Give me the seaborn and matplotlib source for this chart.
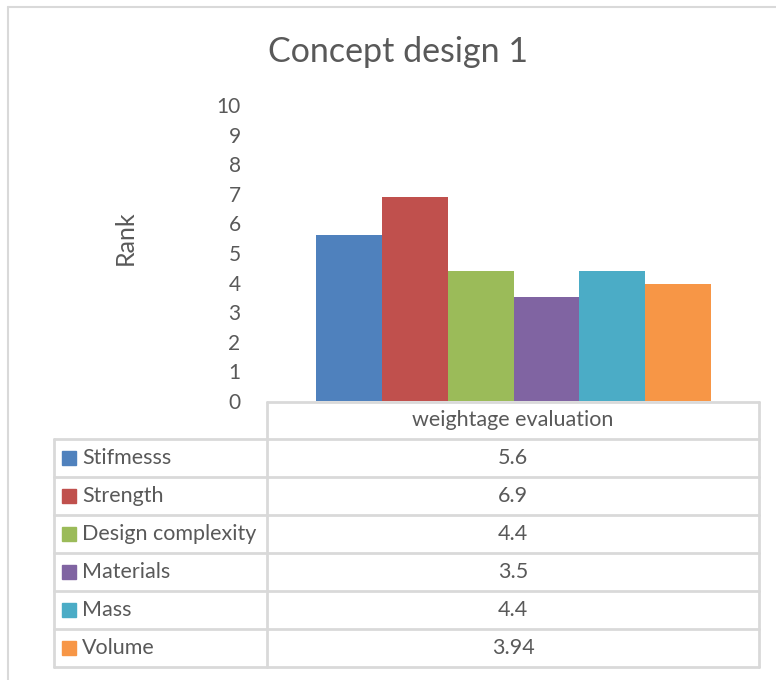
import matplotlib
matplotlib.use("Agg")
import matplotlib.pyplot as plt
import seaborn as sns
import pandas as pd
from matplotlib.lines import Line2D
from matplotlib.patches import Rectangle

# ---- data ----
title = "Concept design 1"
group_label = "weightage evaluation"
criteria = ["Stifmesss", "Strength", "Design complexity", "Materials", "Mass", "Volume"]
values = [5.6, 6.9, 4.4, 3.5, 4.4, 3.94]
value_labels = ["5.6", "6.9", "4.4", "3.5", "4.4", "3.94"]
colors = ["#4F81BD", "#C0504D", "#9BBB59", "#8064A2", "#4BACC6", "#F79646"]
yticks = list(range(0, 11))

W, H = 776, 680
sns.set_theme(style="white")
plt.rcParams["font.family"] = ["Lato", "DejaVu Sans"]
TXT = "#595959"
GRID = "#D9D9D9"
FS = 15.5

fig = plt.figure(figsize=(W / 100, H / 100), dpi=100)

def fx(px):
    return px / W

def fy(py):
    return 1 - py / H

# plot area: x 267..760, y 105..401
ax = fig.add_axes([fx(267), fy(401), fx(760) - fx(267), fy(105) - fy(401)])
df = pd.DataFrame({"group": [group_label] * len(criteria), "criterion": criteria, "value": values})
sns.barplot(data=df, x="group", y="value", hue="criterion", hue_order=criteria,
            palette=colors, width=0.8, ax=ax, legend=False, saturation=1)
for p in ax.patches:
    p.set_edgecolor("none")
ax.set_xlim(-0.5, 0.5)
ax.set_ylim(0, 10)
ax.set_yticks(yticks)
ax.set_yticklabels([str(t) for t in yticks], fontsize=15, color=TXT)
ax.tick_params(axis="y", length=0, pad=19)
ax.set_xticks([])
ax.set_xlabel("")
ax.set_ylabel("")
for s in ax.spines.values():
    s.set_visible(False)
ax.patch.set_alpha(0)

# y label
fig.text(fx(125), fy(238), "Rank", rotation=90, ha="center", va="center", fontsize=18, color=TXT)

# title
fig.text(fx(398), fy(52), title, ha="center", va="center", fontsize=24.5, color=TXT)

# outer chart border
fig.add_artist(Line2D([fx(8), fx(8)], [fy(7), fy(680)], color=GRID, lw=1.5))
fig.add_artist(Line2D([fx(8), fx(776)], [fy(7), fy(7)], color=GRID, lw=1.5))

# data table
lw = 2.0
xl, xm, xr = 54, 267, 759
y_head_top = 402
row_tops = [439 + 38 * i for i in range(len(criteria) + 1)]
fig.add_artist(Line2D([fx(xm), fx(xr)], [fy(y_head_top), fy(y_head_top)], color=GRID, lw=lw))
fig.add_artist(Line2D([fx(xm), fx(xm)], [fy(y_head_top), fy(row_tops[-1])], color=GRID, lw=lw))
fig.add_artist(Line2D([fx(xr), fx(xr)], [fy(y_head_top), fy(row_tops[-1])], color=GRID, lw=lw))
fig.add_artist(Line2D([fx(xl), fx(xl)], [fy(row_tops[0]), fy(row_tops[-1])], color=GRID, lw=lw))
for yt in row_tops:
    fig.add_artist(Line2D([fx(xl), fx(xr)], [fy(yt), fy(yt)], color=GRID, lw=lw))
fig.text(fx((xm + xr) / 2), fy((y_head_top + row_tops[0]) / 2), group_label,
         ha="center", va="center", fontsize=FS, color=TXT)
for i, (name, lab, c) in enumerate(zip(criteria, value_labels, colors)):
    yc = (row_tops[i] + row_tops[i + 1]) / 2
    fig.add_artist(Rectangle((fx(62), fy(yc + 7)), fx(14), 14 / H, color=c, transform=fig.transFigure))
    fig.text(fx(82), fy(yc), name, ha="left", va="center", fontsize=FS, color=TXT)
    fig.text(fx((xm + xr) / 2), fy(yc), lab, ha="center", va="center", fontsize=FS, color=TXT)

fig.savefig("out.png", dpi=100, facecolor="white")
